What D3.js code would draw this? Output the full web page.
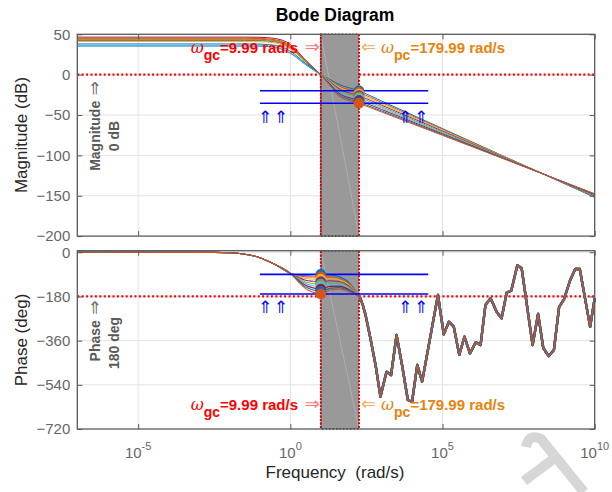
<!DOCTYPE html>
<html>
<head>
<meta charset="utf-8">
<script src="https://cdn.jsdelivr.net/npm/d3@7"></script>
<style>
  body { margin: 0; background: #fff; }
  svg { display: block; font-family: "Liberation Sans", Arial, "DejaVu Sans", sans-serif; }
</style>
</head>
<body>
<svg id="chart" width="612" height="492"></svg>
<script>
// ---- data -------------------------------------------------------------
const seriesColors = ["#0072BD", "#D95319", "#EDB120", "#7E2F8E", "#77AC30", "#4DBEEE", "#A2142F", "#0072BD", "#D95319"];

// crossover frequencies (rad/s)
const wGc = 9.99;
const wPc = 179.99;

// magnitude (dB) sampled at log10(w)
const magLogW = [-7, -1.5, -1, -0.5, 0, 0.5, 1, 1.3, 1.6, 2.255, 3, 5, 7.5, 10];
const magSeries = [
  [35.5, 35.5, 35.3, 33.8, 26.5, 12.5, 0, -6, -12, -20, -32.7, -66.8, -109.4, -152],
  [44, 44, 43.8, 42.3, 35, 17, 0, -7, -14, -22, -34.4, -67.7, -109.4, -151],
  [41, 41, 40.8, 39.3, 32, 15.5, 0, -7.5, -15.5, -24, -36.2, -68.8, -109.6, -150.5],
  [42.5, 42.5, 42.3, 40.8, 33.5, 16.3, 0, -8.5, -17.5, -26, -37.9, -69.9, -110, -150],
  [43, 43, 42.8, 41.3, 34, 16.5, 0, -9.5, -19, -28, -39.7, -71.1, -110.3, -149.5],
  [36, 36, 35.8, 34.3, 27, 13, 0, -10.5, -21, -30, -41.4, -72.2, -110.6, -149],
  [46.5, 46.5, 46.3, 44.8, 37.5, 18, 0, -11.5, -23, -32, -43.2, -73.3, -110.9, -148.5],
  [38, 38, 37.8, 36.3, 29, 14, 0, -12.5, -25, -34, -45, -74.4, -111.2, -148],
  [45, 45, 44.8, 43.3, 36, 17.5, 0, -13.5, -27, -35.5, -46.3, -75.2, -111.4, -147.5]
];

// phase (deg) below the phase crossover, sampled at log10(w)
const phaseLogW = [-7, -2.5, -2, -1.5, -1, -0.5, 0, 0.25, 0.5, 0.75, 1, 1.3, 1.6, 1.9, 2.255];
const phaseSeries = [
  [0, -0.5, -2, -8, -22, -50, -86, -92, -93, -91, -90, -92, -100, -120, -180],
  [0, -0.5, -2, -8, -22, -50, -86, -95, -100, -100, -100, -100, -106, -125, -180],
  [0, -0.5, -2, -8, -22, -50, -86, -99, -107, -109, -110, -108, -113, -130, -180],
  [0, -0.5, -2, -8, -22, -50, -86, -102, -114, -118, -120, -116, -119, -135, -180],
  [0, -0.5, -2, -8, -22, -50, -86, -105, -121, -127, -130, -124, -125, -140, -180],
  [0, -0.5, -2, -8, -22, -50, -86, -108, -127, -136, -140, -131, -131, -145, -180],
  [0, -0.5, -2, -8, -22, -50, -86, -112, -134, -145, -150, -139, -138, -150, -180],
  [0, -0.5, -2, -8, -22, -50, -86, -115, -141, -154, -160, -147, -144, -155, -180],
  [0, -0.5, -2, -8, -22, -50, -86, -118, -148, -163, -170, -155, -150, -160, -180]
];

// shared high-frequency phase (deg) above the phase crossover
const phaseTailLogW = [2.255, 2.30, 2.38, 2.47, 2.63, 2.80, 2.96, 3.16, 3.31, 3.49, 3.67, 3.86, 4.00, 4.17, 4.33,
  4.85, 5.04, 5.21, 5.37, 5.55, 5.72, 5.90, 6.09, 6.25, 6.41, 6.58, 6.78, 6.94, 7.11, 7.26, 7.46, 7.60,
  7.96, 8.14, 8.31, 8.49, 8.66, 8.83, 8.99, 9.19, 9.36, 9.51, 9.85, 10];
const phaseTail = [-180, -187, -215, -255, -350, -459, -588, -487, -500, -337, -459, -602, -609, -459, -527,
  -174, -334, -283, -303, -418, -344, -412, -367, -378, -215, -187, -243, -269, -164, -156, -52, -65,
  -378, -251, -390, -423, -398, -223, -192, -115, -68, -68, -304, -187];

// margin markers
const magAtPc = [-20, -22, -24, -26, -28, -30, -32, -34, -35.5];
const phaseAtGc = [-90, -100, -110, -120, -130, -140, -150, -160, -170];

// reference bands
const magBand = [-20, -35.5];
const phaseBand = [-90, -170];
const bandFreq = [0.1, 3.4e4];
const arrowFreqs = [0.15, 0.5, 6.0e3, 2.0e4];

// ticks
const freqTicks = [1e-5, 1, 1e5, 1e10];
const freqTickExp = ["-5", "0", "5", "10"];
const magTicks = [50, 0, -50, -100, -150, -200];
const phaseTicks = [0, -180, -360, -540, -720];

// ---- scales -----------------------------------------------------------
const svg = d3.select("#chart");
const left = 77.3, right = 594.7;
const x = d3.scaleLog().domain([1e-7, 1e10]).range([left, right]);
const yMag = d3.scaleLinear().domain([-200, 50]).range([236.1, 34.3]);
const yPh = d3.scaleLinear().domain([-720, 6.5]).range([429, 250.7]);

const boxColor = "#5a5a5a";
const tickTextColor = "#666";

function layer() { return svg.append("g"); }

function drawGrid(y, ticks) {
  const g = layer();
  const [yb, yt] = y.range();
  g.selectAll(null).data(freqTicks.filter(v => x(v) < right - 1)).join("line")
    .attr("x1", d => x(d)).attr("x2", d => x(d)).attr("y1", yt).attr("y2", yb)
    .attr("stroke", "#e2e2e2").attr("stroke-width", 1);
  g.selectAll(null).data(ticks.filter(v => y(v) > yt + 1 && y(v) < yb - 1)).join("line")
    .attr("x1", left).attr("x2", right).attr("y1", d => y(d)).attr("y2", d => y(d))
    .attr("stroke", "#e2e2e2").attr("stroke-width", 1);
}

function drawRefLine(y, v) {
  layer().append("line")
    .attr("x1", left).attr("x2", right).attr("y1", y(v)).attr("y2", y(v))
    .attr("stroke", "#ff0000").attr("stroke-width", 2.3).attr("stroke-dasharray", "2,2.4");
}

function drawBand(y) {
  const g = layer();
  const [yb, yt] = y.range();
  const x0 = x(wGc), x1 = x(wPc);
  g.append("rect").attr("x", x0).attr("y", yt).attr("width", x1 - x0).attr("height", yb - yt)
    .attr("fill", "#999999");
  g.append("line").attr("x1", x0).attr("y1", yt).attr("x2", x1).attr("y2", yb)
    .attr("stroke", "#b4b4b4").attr("stroke-width", 0.8);
  g.append("rect").attr("x", x0).attr("y", yt).attr("width", x1 - x0).attr("height", yb - yt)
    .attr("fill", "none").attr("stroke", "#333").attr("stroke-width", 1.6).attr("stroke-dasharray", "1.5,2");
  [x0, x1].forEach(xx => {
    g.append("line").attr("x1", xx).attr("x2", xx).attr("y1", yt).attr("y2", yb)
      .attr("stroke", "#e00000").attr("stroke-width", 1.8).attr("stroke-dasharray", "2,1.5");
  });
}

function drawBlueLines(y, band) {
  const g = layer();
  g.selectAll(null).data(band).join("line")
    .attr("x1", x(bandFreq[0])).attr("x2", x(bandFreq[1]))
    .attr("y1", d => y(d)).attr("y2", d => y(d))
    .attr("stroke", "#0000ff").attr("stroke-width", 1.6);
}

function drawArrows(yPix) {
  const g = layer();
  g.selectAll(null).data(arrowFreqs).join("text")
    .attr("x", d => x(d)).attr("y", yPix).attr("text-anchor", "middle")
    .attr("font-family", "DejaVu Sans").attr("font-size", 17).attr("fill", "#0000ff")
    .text("\u21D1");
}

function drawAxes(y, ticks, withXLabels) {
  const g = layer();
  const [yb, yt] = y.range();
  g.append("rect").attr("x", left).attr("y", yt).attr("width", right - left).attr("height", yb - yt)
    .attr("fill", "none").attr("stroke", boxColor).attr("stroke-width", 1.3);

  const ax = g.append("g").attr("transform", `translate(${left},0)`)
    .call(d3.axisLeft(y).tickValues(ticks).tickSize(-5).tickSizeOuter(0).tickPadding(7));
  const axR = g.append("g").attr("transform", `translate(${right},0)`)
    .call(d3.axisRight(y).tickValues(ticks).tickSize(-5).tickSizeOuter(0).tickFormat(""));
  const axB = g.append("g").attr("transform", `translate(0,${yb})`)
    .call(d3.axisBottom(x).tickValues(freqTicks).tickSize(-5).tickSizeOuter(0).tickFormat(""));
  const axT = g.append("g").attr("transform", `translate(0,${yt})`)
    .call(d3.axisTop(x).tickValues(freqTicks).tickSize(-5).tickSizeOuter(0).tickFormat(""));
  [ax, axR, axB, axT].forEach(a => {
    a.select(".domain").remove();
    a.selectAll(".tick line").attr("stroke", boxColor).attr("stroke-width", 1);
  });
  ax.selectAll(".tick text").attr("font-size", 15).attr("fill", tickTextColor)
    .attr("font-family", "Liberation Sans, Arial, sans-serif");

  if (withXLabels) {
    const t = g.selectAll(null).data(freqTicks).join("text")
      .attr("x", d => x(d)).attr("y", yb + 29).attr("text-anchor", "middle")
      .attr("font-size", 15).attr("fill", tickTextColor);
    t.append("tspan").text("10");
    t.append("tspan").attr("dy", -8).attr("font-size", 11).text((d, i) => freqTickExp[i]);
  }
}

function marginLabel(xAnchor, yBase, sub, value, color, arrow, arrowColor, side) {
  const g = layer();
  const rightSide = side === "right";
  g.append("text").attr("x", rightSide ? x(wGc) - 1 : x(wPc) + 2).attr("y", yBase - 0.5)
    .attr("text-anchor", rightSide ? "end" : "start")
    .attr("font-family", "DejaVu Sans").attr("font-size", 18).attr("fill", arrowColor).text(arrow);
  const t = g.append("text").attr("x", xAnchor).attr("y", yBase)
    .attr("text-anchor", rightSide ? "end" : "start")
    .attr("font-size", 15).attr("font-weight", "bold").attr("fill", color);
  t.append("tspan").attr("font-family", "DejaVu Serif").attr("font-style", "italic")
    .attr("font-weight", "normal").attr("font-size", 16).text("\u03C9");
  t.append("tspan").attr("dy", 7).attr("font-size", 14).text(sub);
  t.append("tspan").attr("dy", -7).text(value);
}

function rotatedNote(cx, cy, str, arrow) {
  const t = layer().append("text")
    .attr("transform", `translate(${cx},${cy}) rotate(-90)`)
    .attr("text-anchor", "middle").attr("font-size", 14).attr("font-weight", "bold").attr("fill", "#595959");
  t.append("tspan").text(str);
  if (arrow) t.append("tspan").attr("font-family", "DejaVu Sans").attr("font-weight", "normal")
    .attr("font-size", 17).attr("fill", "#6a6a6a").text(" " + arrow);
}

// ---- magnitude panel --------------------------------------------------
drawGrid(yMag, magTicks);
drawRefLine(yMag, 0);
drawBand(yMag);

const magLine = d3.line().x(d => x(Math.pow(10, d[0]))).y(d => yMag(d[1])).curve(d3.curveMonotoneX);
const gm = layer();
magSeries.forEach((s, i) => {
  gm.append("path").attr("d", magLine(s.map((v, k) => [magLogW[k], v])))
    .attr("fill", "none").attr("stroke", seriesColors[i]).attr("stroke-width", 1);
});

drawBlueLines(yMag, magBand);
const mm = layer();
magAtPc.forEach((v, i) => {
  mm.append("circle").attr("cx", x(wPc)).attr("cy", yMag(v)).attr("r", 5)
    .attr("fill", seriesColors[i]).attr("stroke", seriesColors[i]).attr("stroke-width", 0.8);
});
drawArrows(123);

// ---- phase panel ------------------------------------------------------
drawGrid(yPh, phaseTicks);
drawRefLine(yPh, -180);
drawBand(yPh);

const phLine = d3.line().x(d => x(Math.pow(10, d[0]))).y(d => yPh(d[1])).curve(d3.curveMonotoneX);
const phTailLine = d3.line().x(d => x(Math.pow(10, d[0]))).y(d => yPh(d[1]));
const tailPts = phaseTailLogW.map((w, k) => [w, phaseTail[k]]);
const gp = layer();
phaseSeries.forEach((s, i) => {
  gp.append("path").attr("d", phLine(s.map((v, k) => [phaseLogW[k], v])))
    .attr("fill", "none").attr("stroke", seriesColors[i]).attr("stroke-width", 1.1);
});
phaseSeries.forEach((s, i) => {
  const last = i === phaseSeries.length - 1;
  gp.append("path").attr("d", phTailLine(tailPts))
    .attr("fill", "none").attr("stroke", seriesColors[i])
    .attr("stroke-width", last ? 1.3 : 2.3).attr("stroke-linejoin", "round");
});

drawBlueLines(yPh, phaseBand);
const pm = layer();
phaseAtGc.forEach((v, i) => {
  pm.append("circle").attr("cx", x(wGc)).attr("cy", yPh(v)).attr("r", 5)
    .attr("fill", seriesColors[i]).attr("stroke", seriesColors[i]).attr("stroke-width", 0.8);
});
drawArrows(313);

// ---- axes, labels -----------------------------------------------------
drawAxes(yMag, magTicks, false);
drawAxes(yPh, phaseTicks, true);

marginLabel(298, 53, "gc", "=9.99 rad/s", "#ff0000", "\u21D2", "#ff7a7a", "right");
marginLabel(381, 53, "pc", "=179.99 rad/s", "#e8820c", "\u21D0", "#f2b06a", "left");
marginLabel(298, 410, "gc", "=9.99 rad/s", "#ff0000", "\u21D2", "#ff7a7a", "right");
marginLabel(381, 410, "pc", "=179.99 rad/s", "#e8820c", "\u21D0", "#f2b06a", "left");

rotatedNote(100, 126, "Magnitude", "\u21D2");
rotatedNote(119, 136, "0 dB", null);
rotatedNote(100, 331, "Phase", "\u21D2");
rotatedNote(119, 343, "180 deg", null);

svg.append("text").attr("x", 335).attr("y", 21).attr("text-anchor", "middle")
  .attr("font-size", 17.5).attr("font-weight", "bold").attr("fill", "#000").text("Bode Diagram");
svg.append("text").attr("transform", "translate(27,135) rotate(-90)").attr("text-anchor", "middle")
  .attr("font-size", 17).attr("fill", "#262626").text("Magnitude (dB)");
svg.append("text").attr("transform", "translate(27,340) rotate(-90)").attr("text-anchor", "middle")
  .attr("font-size", 17).attr("fill", "#262626").text("Phase (deg)");
svg.append("text").attr("x", 335).attr("y", 478).attr("text-anchor", "middle")
  .attr("font-size", 17).attr("fill", "#262626").text("Frequency\u00A0\u00A0(rad/s)");

// corner logo mark
const logo = svg.append("g").attr("fill", "none").attr("stroke", "#d6d6d6").attr("stroke-width", 10)
  .attr("stroke-linecap", "butt");
logo.append("path").attr("d", "M526,447 Q529,433 541,439 L584,492");
logo.append("path").attr("d", "M524,481 L552,460");
</script>
</body>
</html>
